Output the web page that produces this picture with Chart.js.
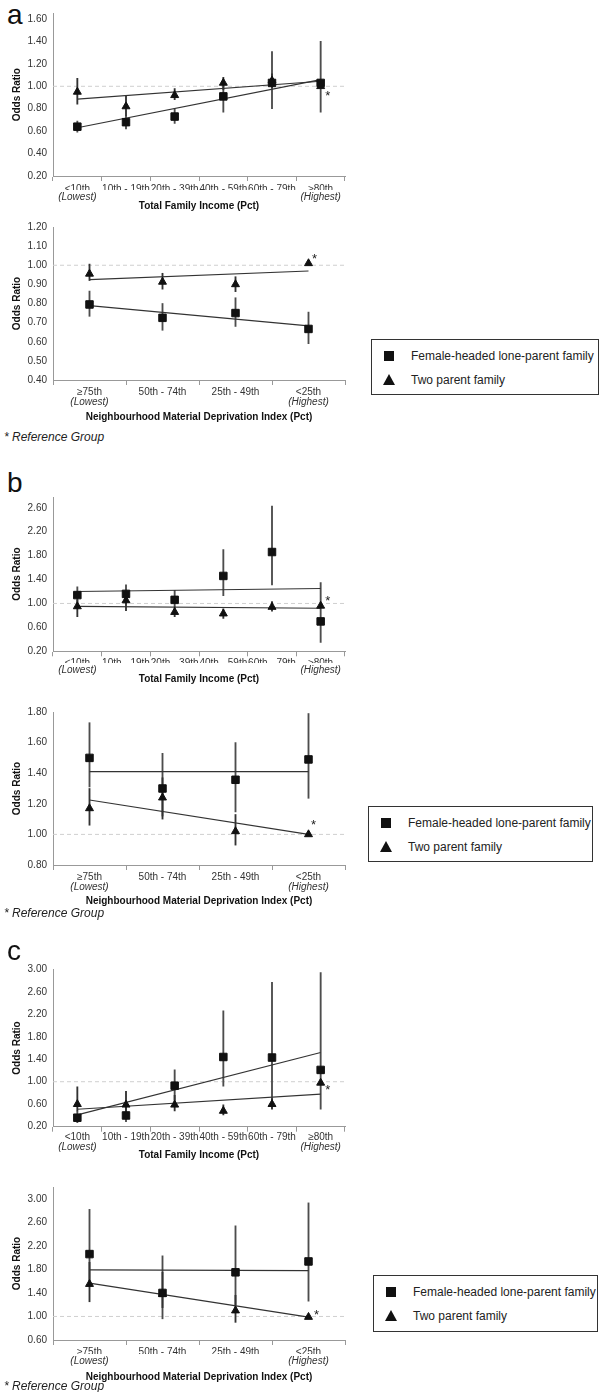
<!DOCTYPE html>
<html>
<head>
<meta charset="utf-8">
<script src="https://cdn.jsdelivr.net/npm/chart.js@4.4.1/dist/chart.umd.min.js"></script>
<style>
  body { margin: 0; width: 600px; height: 1392px; position: relative; background: #fff; overflow: hidden;
         font-family: 'Liberation Sans', Arial, sans-serif; }
  .panel { position: absolute; left: 0; width: 360px; }
  .letter { position: absolute; left: 7px; font-size: 28px; line-height: 28px; color: #111; }
  .refnote { position: absolute; left: 4px; font-size: 12px; line-height: 12px; font-style: italic; color: #222; }
  .legend { position: absolute; border: 1.5px solid #333; box-sizing: border-box; background: #fff; }
  .legend .sq { position: absolute; left: 12px; width: 10px; height: 10px; background: #111; }
  .legend .tri { position: absolute; left: 11px; width: 0; height: 0; border-left: 6px solid transparent;
                 border-right: 6px solid transparent; border-bottom: 11px solid #111; }
  .legend .txt { position: absolute; left: 39px; font-size: 12px; line-height: 14px; color: #222; white-space: nowrap; }
</style>
</head>
<body>

<div class="letter" style="top:1px">a</div>
<canvas id="a1" class="panel" width="360" height="212" style="top:0px"></canvas>
<canvas id="a2" class="panel" width="360" height="208" style="top:215px"></canvas>
<div class="refnote" style="top:431px">* Reference Group</div>
<div class="legend" style="left:371px; top:339px; width:228px; height:56px">
  <div class="sq" style="top:11px"></div><div class="txt" style="top:9px">Female-headed lone-parent family</div>
  <div class="tri" style="top:34px"></div><div class="txt" style="top:33px">Two parent family</div>
</div>

<div class="letter" style="top:469px">b</div>
<canvas id="b1" class="panel" width="360" height="200" style="top:485px"></canvas>
<canvas id="b2" class="panel" width="360" height="207" style="top:700px"></canvas>
<div class="refnote" style="top:907px">* Reference Group</div>
<div class="legend" style="left:368px; top:806px; width:225px; height:56px">
  <div class="sq" style="top:11px"></div><div class="txt" style="top:9px">Female-headed lone-parent family</div>
  <div class="tri" style="top:34px"></div><div class="txt" style="top:33px">Two parent family</div>
</div>

<div class="letter" style="top:937px">c</div>
<canvas id="c1" class="panel" width="360" height="206" style="top:955px"></canvas>
<canvas id="c2" class="panel" width="360" height="208" style="top:1175px"></canvas>
<div class="refnote" style="top:1380px">* Reference Group</div>
<div class="legend" style="left:373px; top:1275px; width:225px; height:57px">
  <div class="sq" style="top:11px"></div><div class="txt" style="top:9px">Female-headed lone-parent family</div>
  <div class="tri" style="top:34px"></div><div class="txt" style="top:33px">Two parent family</div>
</div>

<script>
Chart.defaults.font.family = "'Liberation Sans', Arial, sans-serif";

// categories
const incomeLabels = ['<10th', '10th - 19th', '20th - 39th', '40th - 59th', '60th - 79th', '≥80th'];
const incomeSub = ['(Lowest)', '', '', '', '', '(Highest)'];
const deprivLabels = ['≥75th', '50th - 74th', '25th - 49th', '<25th'];
const deprivSub = ['(Lowest)', '', '', '(Highest)'];

// panel a - income
const aIncFemale = [0.64, 0.68, 0.73, 0.91, 1.03, 1.03];
const aIncFemaleLo = [0.59, 0.62, 0.67, 0.77, 0.80, 0.77];
const aIncFemaleHi = [0.69, 0.74, 0.80, 1.02, 1.31, 1.40];
const aIncTwo = [0.95, 0.82, 0.92, 1.03, 1.05, 1.00];
const aIncTwoLo = [0.84, 0.74, 0.88, 0.97, 0.99, null];
const aIncTwoHi = [1.07, 0.91, 0.98, 1.08, 1.11, null];
const aIncFemaleTrend = [0.63, 1.06];
const aIncTwoTrend = [0.885, 1.045];
const aIncTicks = [0.2, 0.4, 0.6, 0.8, 1.0, 1.2, 1.4, 1.6];

// panel a - deprivation
const aDepFemale = [0.795, 0.725, 0.75, 0.667];
const aDepFemaleLo = [0.733, 0.66, 0.68, 0.59];
const aDepFemaleHi = [0.865, 0.80, 0.83, 0.755];
const aDepTwo = [0.955, 0.913, 0.90, 1.01];
const aDepTwoLo = [0.92, 0.875, 0.862, null];
const aDepTwoHi = [1.006, 0.958, 0.94, null];
const aDepFemaleTrend = [0.789, 0.683];
const aDepTwoTrend = [0.925, 0.97];
const aDepTicks = [0.4, 0.5, 0.6, 0.7, 0.8, 0.9, 1.0, 1.1, 1.2];

// panel b - income
const bIncFemale = [1.14, 1.16, 1.06, 1.46, 1.86, 0.70];
const bIncFemaleLo = [0.99, 0.99, 0.94, 1.13, 1.31, 0.35];
const bIncFemaleHi = [1.28, 1.31, 1.22, 1.90, 2.63, 1.35];
const bIncTwo = [0.95, 1.05, 0.855, 0.83, 0.94, 0.96];
const bIncTwoLo = [0.78, 0.88, 0.78, 0.75, 0.87, null];
const bIncTwoHi = [1.06, 1.19, 0.94, 0.91, 1.03, null];
const bIncFemaleTrend = [1.20, 1.25];
const bIncTwoTrend = [0.95, 0.92];
const bIncTicks = [0.2, 0.6, 1.0, 1.4, 1.8, 2.2, 2.6];

// panel b - deprivation
const bDepFemale = [1.50, 1.30, 1.357, 1.49];
const bDepFemaleLo = [1.31, 1.12, 1.147, 1.236];
const bDepFemaleHi = [1.73, 1.53, 1.60, 1.79];
const bDepTwo = [1.17, 1.24, 1.02, 1.00];
const bDepTwoLo = [1.06, 1.10, 0.93, null];
const bDepTwoHi = [1.30, 1.37, 1.13, null];
const bDepFemaleTrend = [1.41, 1.41];
const bDepTwoTrend = [1.225, 1.00];
const bDepTicks = [0.8, 1.0, 1.2, 1.4, 1.6, 1.8];

// panel c - income
const cIncFemale = [0.36, 0.40, 0.93, 1.44, 1.43, 1.21];
const cIncFemaleLo = [0.27, 0.29, 0.67, 0.92, 0.53, 0.51];
const cIncFemaleHi = [0.48, 0.56, 1.21, 2.26, 2.77, 2.94];
const cIncTwo = [0.60, 0.59, 0.59, 0.48, 0.60, 0.98];
const cIncTwoLo = [0.48, 0.47, 0.48, 0.41, 0.51, null];
const cIncTwoHi = [0.91, 0.83, 0.76, 0.59, 0.70, null];
const cIncFemaleTrend = [0.41, 1.52];
const cIncTwoTrend = [0.51, 0.78];
const cIncTicks = [0.2, 0.6, 1.0, 1.4, 1.8, 2.2, 2.6, 3.0];

// panel c - deprivation
const cDepFemale = [2.06, 1.40, 1.75, 1.935];
const cDepFemaleLo = [1.55, 0.96, 1.20, 1.26];
const cDepFemaleHi = [2.82, 2.03, 2.54, 2.93];
const cDepTwo = [1.55, 1.38, 1.10, 0.99];
const cDepTwoLo = [1.25, 1.15, 0.90, null];
const cDepTwoHi = [1.92, 1.75, 1.36, null];
const cDepFemaleTrend = [1.79, 1.78];
const cDepTwoTrend = [1.566, 0.99];
const cDepTicks = [0.6, 1.0, 1.4, 1.8, 2.2, 2.6, 3.0];

// dashed line at OR = 1 and the reference-group asterisk
const refPlugin = {
  id: 'refLine',
  beforeDatasetsDraw(chart, args, o) {
    const { ctx, chartArea } = chart;
    const y = chart.scales.y.getPixelForValue(o.value);
    ctx.save();
    ctx.strokeStyle = '#cfcfcf';
    ctx.lineWidth = 1;
    ctx.setLineDash([4, 3]);
    ctx.beginPath();
    ctx.moveTo(chartArea.left, y);
    ctx.lineTo(chartArea.right, y);
    ctx.stroke();
    ctx.restore();
  },
  afterDatasetsDraw(chart, args, o) {
    const { ctx } = chart;
    const x = chart.scales.x.getPixelForValue(o.index) + o.dx;
    const y = chart.scales.y.getPixelForValue(o.at) + o.dy;
    ctx.save();
    ctx.fillStyle = '#222';
    ctx.font = "13px 'Liberation Sans', Arial, sans-serif";
    ctx.textAlign = 'center';
    ctx.textBaseline = 'middle';
    ctx.fillText('*', x, y + 3);
    ctx.restore();
  }
};

function errPairs(lo, hi) {
  return lo.map((v, i) => v == null ? null : [v, hi[i]]);
}

function trendLine(ends, n) {
  const d = new Array(n).fill(null);
  d[0] = ends[0];
  d[n - 1] = ends[1];
  return d;
}

function makeChart(id, p) {
  const n = p.labels.length;
  new Chart(document.getElementById(id), {
    type: 'line',
    data: {
      labels: p.labels,
      datasets: [
        { type: 'bar', data: errPairs(p.femaleLo, p.femaleHi), grouped: false, barThickness: 1.2,
          backgroundColor: '#4d4d4d', order: 4 },
        { type: 'bar', data: errPairs(p.twoLo, p.twoHi), grouped: false, barThickness: 1.2,
          backgroundColor: '#333', order: 3 },
        { data: trendLine(p.femaleTrend, n), spanGaps: true, borderColor: '#333', borderWidth: 1.2,
          pointRadius: 0, order: 2 },
        { data: trendLine(p.twoTrend, n), spanGaps: true, borderColor: '#333', borderWidth: 1.2,
          pointRadius: 0, order: 2 },
        { data: p.female, showLine: false, pointStyle: 'rect', pointRadius: 5.3, pointBorderWidth: 1,
          pointBackgroundColor: '#111', pointBorderColor: '#111', order: 1 },
        { data: p.two, showLine: false, pointStyle: 'triangle', pointRadius: 4.6, pointBorderWidth: 1,
          pointBackgroundColor: '#111', pointBorderColor: '#111', order: 0 }
      ]
    },
    options: {
      responsive: false,
      animation: false,
      events: [],
      layout: { padding: { top: p.padTop, right: 15, left: 0, bottom: 0 } },
      plugins: {
        legend: { display: false },
        tooltip: { enabled: false },
        refLine: { value: 1, index: n - 1, at: p.two[n - 1], dx: p.star[0], dy: p.star[1] }
      },
      scales: {
        x: {
          type: 'category', offset: true, weight: 0,
          grid: { offset: true, drawOnChartArea: false, drawTicks: true, tickLength: 5, color: '#999' },
          border: { color: '#999', width: 1 },
          ticks: { autoSkip: false, maxRotation: 0, padding: p.xPad, color: '#333', font: { size: 10 } },
          afterFit: s => { s.height = p.xH; }
        },
        x2: {
          type: 'category', labels: p.sub, position: 'bottom', offset: true, weight: 1,
          grid: { display: false, drawTicks: false },
          border: { display: false },
          ticks: { autoSkip: false, maxRotation: 0, padding: 1, color: '#333',
                   font: { size: 10, style: 'italic' } },
          title: { display: true, text: p.xTitle, color: '#111', padding: 0,
                   font: { size: 10, weight: 'bold' } },
          afterFit: s => { s.height = p.x2H; }
        },
        y: {
          min: p.yMin, max: p.yMax,
          afterBuildTicks: s => { s.ticks = p.yTicks.map(v => ({ value: v })); },
          grid: { drawOnChartArea: false, drawTicks: false },
          border: { color: '#999', width: 1 },
          ticks: { padding: 6, color: '#333', font: { size: 10 }, callback: v => Number(v).toFixed(2) },
          title: { display: true, text: 'Odds Ratio', color: '#111', padding: { top: 11.5, bottom: 0 },
                   font: { size: 10, weight: 'bold' } },
          afterFit: s => { s.width = 53; }
        }
      }
    },
    plugins: [refPlugin]
  });
}

const incomeTitle = 'Total Family Income (Pct)';
const deprivTitle = 'Neighbourhood Material Deprivation Index (Pct)';

makeChart('a1', { labels: incomeLabels, sub: incomeSub, xTitle: incomeTitle,
  female: aIncFemale, femaleLo: aIncFemaleLo, femaleHi: aIncFemaleHi,
  two: aIncTwo, twoLo: aIncTwoLo, twoHi: aIncTwoHi,
  femaleTrend: aIncFemaleTrend, twoTrend: aIncTwoTrend, yTicks: aIncTicks,
  yMin: 0.2, yMax: 1.65, padTop: 13.4, xPad: 2, xH: 14, x2H: 22, star: [7, 7] });

makeChart('a2', { labels: deprivLabels, sub: deprivSub, xTitle: deprivTitle,
  female: aDepFemale, femaleLo: aDepFemaleLo, femaleHi: aDepFemaleHi,
  two: aDepTwo, twoLo: aDepTwoLo, twoHi: aDepTwoHi,
  femaleTrend: aDepFemaleTrend, twoTrend: aDepTwoTrend, yTicks: aDepTicks,
  yMin: 0.4, yMax: 1.2, padTop: 7.3, xPad: 1, xH: 15, x2H: 28, star: [6, -7] });

makeChart('b1', { labels: incomeLabels, sub: incomeSub, xTitle: incomeTitle,
  female: bIncFemale, femaleLo: bIncFemaleLo, femaleHi: bIncFemaleHi,
  two: bIncTwo, twoLo: bIncTwoLo, twoHi: bIncTwoHi,
  femaleTrend: bIncFemaleTrend, twoTrend: bIncTwoTrend, yTicks: bIncTicks,
  yMin: 0.2, yMax: 2.78, padTop: 10, xPad: 1, xH: 11.7, x2H: 22, star: [7, -7] });

makeChart('b2', { labels: deprivLabels, sub: deprivSub, xTitle: deprivTitle,
  female: bDepFemale, femaleLo: bDepFemaleLo, femaleHi: bDepFemaleHi,
  two: bDepTwo, twoLo: bDepTwoLo, twoHi: bDepTwoHi,
  femaleTrend: bDepFemaleTrend, twoTrend: bDepTwoTrend, yTicks: bDepTicks,
  yMin: 0.8, yMax: 1.8, padTop: 8.3, xPad: 1, xH: 15, x2H: 27, star: [5, -12] });

makeChart('c1', { labels: incomeLabels, sub: incomeSub, xTitle: incomeTitle,
  female: cIncFemale, femaleLo: cIncFemaleLo, femaleHi: cIncFemaleHi,
  two: cIncTwo, twoLo: cIncTwoLo, twoHi: cIncTwoHi,
  femaleTrend: cIncFemaleTrend, twoTrend: cIncTwoTrend, yTicks: cIncTicks,
  yMin: 0.2, yMax: 3.0, padTop: 14.3, xPad: 0, xH: 13.3, x2H: 21, star: [7, 5] });

makeChart('c2', { labels: deprivLabels, sub: deprivSub, xTitle: deprivTitle,
  female: cDepFemale, femaleLo: cDepFemaleLo, femaleHi: cDepFemaleHi,
  two: cDepTwo, twoLo: cDepTwoLo, twoHi: cDepTwoHi,
  femaleTrend: cDepFemaleTrend, twoTrend: cDepTwoTrend, yTicks: cDepTicks,
  yMin: 0.6, yMax: 3.2, padTop: 8, xPad: 1, xH: 14, x2H: 29, star: [8, -5] });
</script>
</body>
</html>
